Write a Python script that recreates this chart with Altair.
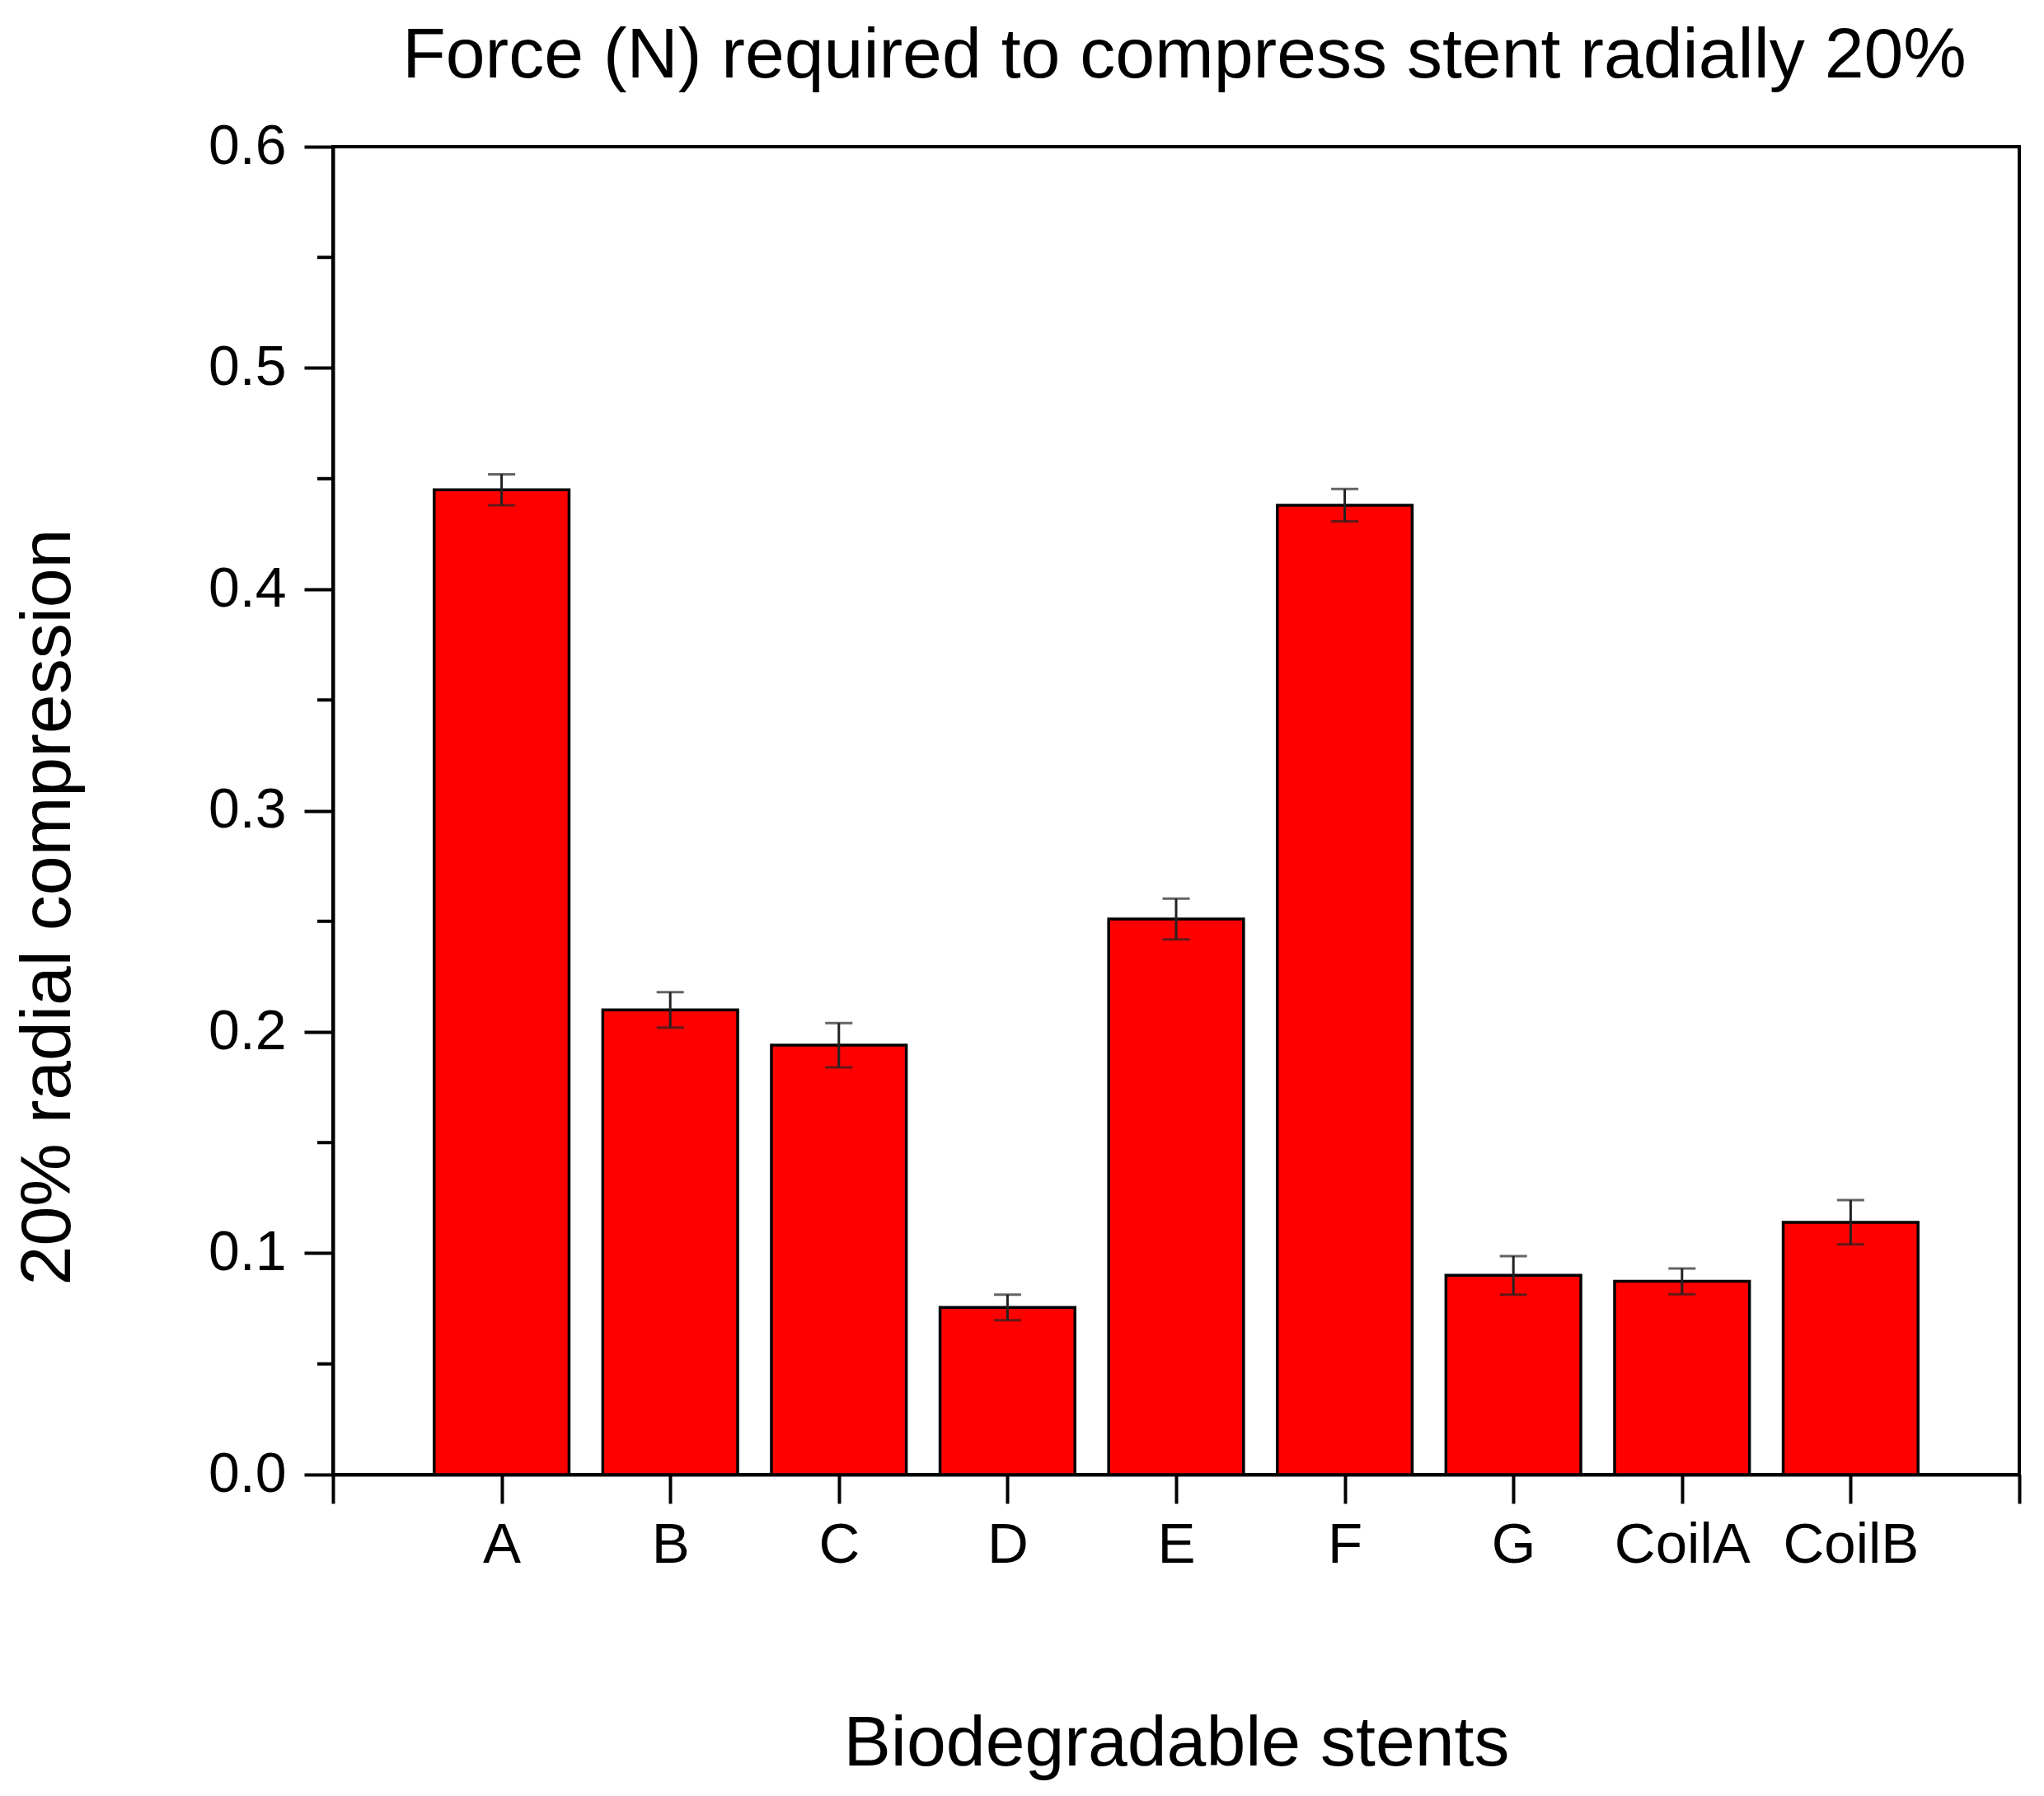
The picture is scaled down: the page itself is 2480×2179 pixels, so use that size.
import altair as alt
import pandas as pd

# ---- data ----
categories = ["A", "B", "C", "D", "E", "F", "G", "CoilA", "CoilB"]
values = [0.445, 0.210, 0.194, 0.0755, 0.251, 0.438, 0.090, 0.0873, 0.114]
errors = [0.007, 0.008, 0.010, 0.0058, 0.0092, 0.0073, 0.0087, 0.0058, 0.010]
y_ticks = [0.0, 0.1, 0.2, 0.3, 0.4, 0.5, 0.6]
y_minor = [0.05, 0.15, 0.25, 0.35, 0.45, 0.55]
x_ticks = list(range(0, 11))

FONT = "Liberation Sans"
BAR_HALF = 0.4

df = pd.DataFrame({
    "stent": categories,
    "pos": list(range(1, len(categories) + 1)),
    "value": values,
    "err": errors,
})
minor_df = pd.DataFrame({"v": y_minor})

label_list = [""] + categories + [""]
label_expr = "[" + ",".join("'%s'" % s for s in label_list) + "][datum.value]"

xscale = alt.Scale(domain=[0, 10], nice=False, zero=False)
yscale = alt.Scale(domain=[0, 0.6], nice=False, zero=True)

x_axis = alt.Axis(
    values=x_ticks, labelExpr=label_expr, tickSize=35, tickWidth=4,
    domainWidth=4, domainColor="black", tickColor="black",
    labelFontSize=69, labelFont=FONT, labelColor="black", labelPadding=16,
    labelFlush=False, labelOverlap=False, grid=False,
    title="Biodegradable stents", titleFontSize=86, titleFont=FONT,
    titleFontWeight="normal", titleColor="black",
    titleX=1023, titleY=352, titleBaseline="alphabetic", titleAlign="center",
)
y_axis = alt.Axis(
    values=y_ticks, format=".1f", tickSize=35, tickWidth=4,
    domainWidth=4, domainColor="black", tickColor="black",
    labelFontSize=68, labelFont=FONT, labelColor="black", labelPadding=22,
    labelFlush=False, labelOverlap=False, grid=False,
    title="20% radial compression", titleFontSize=86, titleFont=FONT,
    titleFontWeight="normal", titleColor="black",
    titleX=-320, titleY=922, titleBaseline="alphabetic", titleAlign="center",
    titleAngle=270,
)

base = alt.Chart(df).transform_calculate(
    x0="datum.pos - %f" % BAR_HALF,
    x1="datum.pos + %f" % BAR_HALF,
    lo="datum.value - datum.err",
    hi="datum.value + datum.err",
)

bars = base.mark_rect(color="#ff0000", stroke="black", strokeWidth=3.5).encode(
    x=alt.X("x0:Q", scale=xscale, axis=x_axis),
    x2="x1:Q",
    y=alt.Y("value:Q", scale=yscale, axis=y_axis),
    y2=alt.datum(0),
)

err_rule = base.mark_rule(color="#222222", strokeWidth=3).encode(
    x=alt.X("pos:Q", scale=xscale, axis=x_axis),
    y=alt.Y("lo:Q", scale=yscale, axis=y_axis),
    y2="hi:Q",
)
cap_lo = base.mark_tick(color="#222222", orient="horizontal", size=33, thickness=3).encode(
    x=alt.X("pos:Q", scale=xscale, axis=x_axis),
    y=alt.Y("lo:Q", scale=yscale, axis=y_axis),
)
cap_hi = base.mark_tick(color="#222222", orient="horizontal", size=33, thickness=3).encode(
    x=alt.X("pos:Q", scale=xscale, axis=x_axis),
    y=alt.Y("hi:Q", scale=yscale, axis=y_axis),
)

minor = alt.Chart(minor_df).mark_rule(color="black", strokeWidth=4).encode(
    y=alt.Y("v:Q", scale=yscale, axis=y_axis),
    x=alt.value(-19),
    x2=alt.value(0),
)

chart = alt.layer(bars, err_rule, cap_lo, cap_hi, minor).properties(
    width=2046,
    height=1611,
    background="white",
    autosize=alt.AutoSizeParams(type="none"),
    padding={"left": 396, "top": 170, "right": 20, "bottom": 382},
    title=alt.TitleParams(
        "Force (N) required to compress stent radially 20%",
        fontSize=86, font=FONT, fontWeight="normal", color="black",
        anchor="middle", dx=10, offset=32,
    ),
).configure_view(
    stroke="black", strokeWidth=4
)

chart.save("out.html", embed_options={"renderer": "svg", "actions": False})
